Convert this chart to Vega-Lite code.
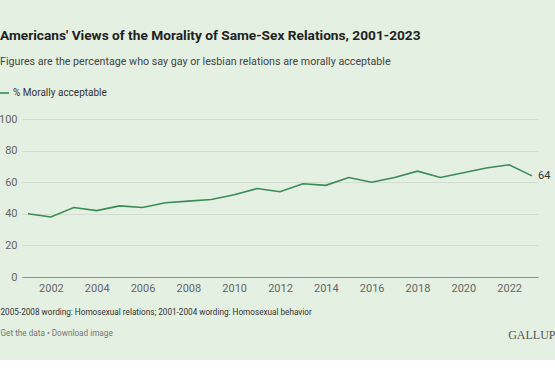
{
  "$schema": "https://vega.github.io/schema/vega-lite/v6.json",
  "autosize": {"type": "none"},
  "width": 516,
  "height": 158,
  "padding": {"left": 22, "top": 119, "right": 17, "bottom": 83},
  "background": "#e4f0e1",
  "config": {"font": "Roboto", "view": {"stroke": null}},
  "title": {
    "text": "Americans' Views of the Morality of Same-Sex Relations, 2001-2023",
    "subtitle": "Figures are the percentage who say gay or lesbian relations are morally acceptable",
    "anchor": "start",
    "frame": "group",
    "dx": -22,
    "offset": 20,
    "fontSize": 13.7,
    "fontWeight": "bold",
    "color": "#222222",
    "subtitleFontSize": 10.7,
    "subtitleColor": "#444444",
    "subtitlePadding": 15
  },
  "data": {
    "values": [
      {"year": 2001, "pct": 40, "series": "% Morally acceptable"},
      {"year": 2002, "pct": 38, "series": "% Morally acceptable"},
      {"year": 2003, "pct": 44, "series": "% Morally acceptable"},
      {"year": 2004, "pct": 42, "series": "% Morally acceptable"},
      {"year": 2005, "pct": 45, "series": "% Morally acceptable"},
      {"year": 2006, "pct": 44, "series": "% Morally acceptable"},
      {"year": 2007, "pct": 47, "series": "% Morally acceptable"},
      {"year": 2008, "pct": 48, "series": "% Morally acceptable"},
      {"year": 2009, "pct": 49, "series": "% Morally acceptable"},
      {"year": 2010, "pct": 52, "series": "% Morally acceptable"},
      {"year": 2011, "pct": 56, "series": "% Morally acceptable"},
      {"year": 2012, "pct": 54, "series": "% Morally acceptable"},
      {"year": 2013, "pct": 59, "series": "% Morally acceptable"},
      {"year": 2014, "pct": 58, "series": "% Morally acceptable"},
      {"year": 2015, "pct": 63, "series": "% Morally acceptable"},
      {"year": 2016, "pct": 60, "series": "% Morally acceptable"},
      {"year": 2017, "pct": 63, "series": "% Morally acceptable"},
      {"year": 2018, "pct": 67, "series": "% Morally acceptable"},
      {"year": 2019, "pct": 63, "series": "% Morally acceptable"},
      {"year": 2020, "pct": 66, "series": "% Morally acceptable"},
      {"year": 2021, "pct": 69, "series": "% Morally acceptable"},
      {"year": 2022, "pct": 71, "series": "% Morally acceptable"},
      {"year": 2023, "pct": 64, "series": "% Morally acceptable"}
    ]
  },
  "resolve": {"axis": {"y": "independent"}},
  "layer": [
    {
      "mark": {"type": "line", "strokeWidth": 1.6},
      "encoding": {
        "x": {
          "field": "year",
          "type": "quantitative",
          "scale": {"domain": [2000.74, 2023.26], "nice": false, "zero": false},
          "axis": {
            "values": [2002, 2004, 2006, 2008, 2010, 2012, 2014, 2016, 2018, 2020, 2022],
            "format": "d",
            "grid": false,
            "ticks": false,
            "domain": true,
            "domainColor": "#8a9088",
            "domainWidth": 1,
            "labelColor": "#666666",
            "labelFontSize": 11,
            "labelPadding": 5,
            "title": "2005-2008 wording: Homosexual relations; 2001-2004 wording: Homosexual behavior",
            "titleX": -22,
            "titleY": 35,
            "titleAlign": "left",
            "titleAnchor": "start",
            "titleBaseline": "middle",
            "titleFontSize": 8.2,
            "titleFontWeight": "normal",
            "titleColor": "#333333"
          }
        },
        "y": {
          "field": "pct",
          "type": "quantitative",
          "scale": {"domain": [0, 100], "nice": false},
          "axis": {
            "values": [0, 20, 40, 60, 80, 100],
            "grid": true,
            "gridColor": "#d2ddcf",
            "gridWidth": 1,
            "domain": false,
            "ticks": false,
            "labelColor": "#666666",
            "labelFontSize": 11,
            "labelPadding": 5,
            "title": "Get the data • Download image",
            "titleAngle": 0,
            "titleX": -22,
            "titleY": 214,
            "titleAlign": "left",
            "titleBaseline": "middle",
            "titleFontSize": 8.2,
            "titleFontWeight": "normal",
            "titleColor": "#777777"
          }
        },
        "color": {
          "field": "series",
          "type": "nominal",
          "scale": {"range": ["#3b8b5a"]},
          "legend": {
            "orient": "none",
            "legendX": -24,
            "legendY": -32,
            "title": null,
            "symbolType": "stroke",
            "symbolSize": 100,
            "symbolStrokeWidth": 1.6,
            "labelFontSize": 10,
            "labelColor": "#333333",
            "labelOffset": 3,
            "padding": 0
          }
        }
      }
    },
    {
      "transform": [{"filter": "datum.year == 2023"}],
      "mark": {"type": "text", "align": "left", "dx": 6, "fontSize": 11, "color": "#333333"},
      "encoding": {
        "x": {"field": "year", "type": "quantitative"},
        "y": {
          "field": "pct",
          "type": "quantitative",
          "axis": {
            "orient": "right",
            "labels": false,
            "ticks": false,
            "domain": false,
            "grid": false,
            "title": "GALLUP",
            "titleAngle": 0,
            "titleX": 17,
            "titleY": 215,
            "titleAlign": "right",
            "titleBaseline": "middle",
            "titleFont": "Liberation Serif",
            "titleFontSize": 12,
            "titleFontWeight": "normal",
            "titleColor": "#555555"
          }
        },
        "text": {"field": "pct", "type": "quantitative"}
      }
    }
  ]
}
